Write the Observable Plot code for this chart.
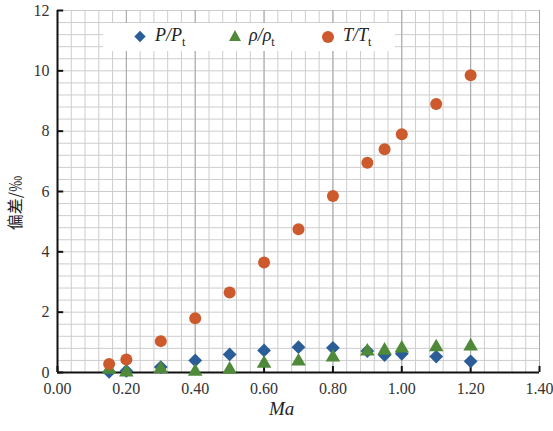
<!DOCTYPE html>
<html><head><meta charset="utf-8">
<script src="https://cdn.jsdelivr.net/npm/d3@7"></script>
<script src="https://cdn.jsdelivr.net/npm/@observablehq/plot@0.6"></script>
<style>
body{margin:0;background:#fff;}
#wrap{position:relative;width:553px;height:431px;}
#wrap svg text{font-family:"Liberation Serif","Times New Roman",serif;}
#legend{position:absolute;left:103px;top:23px;width:292px;height:28px;background:#fff;font-family:"Liberation Serif","Times New Roman",serif;font-size:18px;font-style:italic;color:#222;}
#legend .it{position:absolute;top:2px;white-space:nowrap;}
#legend svg{position:absolute;top:0;}
.sub{font-style:normal;font-size:12px;vertical-align:-5px;}
#ylab{position:absolute;left:14px;top:203px;transform:translate(-50%,-50%) rotate(-90deg);font-family:"Noto Sans CJK SC",sans-serif;font-size:16px;color:#222;white-space:nowrap;}
#xlab{position:absolute;left:269px;top:398px;font-family:"Liberation Serif","Times New Roman",serif;font-style:italic;font-size:19px;color:#222;}
</style></head>
<body><div id="wrap"></div>
<script>
const ma = [0.15,0.2,0.3,0.4,0.5,0.6,0.7,0.8,0.9,0.95,1.0,1.1,1.2];
const pRatio = [0.02,0.05,0.18,0.40,0.60,0.73,0.84,0.82,0.71,0.58,0.62,0.53,0.37];
const rhoRatio = [0.10,0.01,0.12,0.03,0.10,0.30,0.37,0.50,0.70,0.73,0.80,0.84,0.87];
const tRatio = [0.28,0.43,1.04,1.80,2.65,3.65,4.75,5.85,6.95,7.40,7.90,8.90,9.85];
const xTicks = [0,0.2,0.4,0.6,0.8,1.0,1.2,1.4];
const yTicks = [0,2,4,6,8,10,12];
const colors = {P:"#2b5d99", rho:"#4f8a3b", T:"#cc5a2d"};

const xMinor = d3.range(0,36).map(i=>+(i*0.04).toFixed(2));
const yMinor = d3.range(0,31).map(i=>+(i*0.4).toFixed(2));
const rows = ma.map((m,i)=>({ma:m,p:pRatio[i],rho:rhoRatio[i],t:tRatio[i]}));

const chart = Plot.plot({
  width:553, height:431,
  marginLeft:57, marginRight:14, marginTop:10, marginBottom:59,
  x:{domain:[0,1.4]}, y:{domain:[0,12]},
  style:{fontFamily:"'Liberation Serif', 'Times New Roman', serif", fontSize:"16px", color:"#333"},
  marks:[
    Plot.ruleX(xMinor,{stroke:"#cdcdcd",strokeWidth:1,strokeOpacity:1}),
    Plot.ruleY(yMinor,{stroke:"#cdcdcd",strokeWidth:1,strokeOpacity:1}),
    Plot.ruleX(xTicks,{stroke:"#a6a6a6",strokeWidth:1}),
    Plot.axisX({ticks:xTicks,tickFormat:d=>d.toFixed(2),tickSize:0,tickPadding:10,label:null}),
    Plot.axisY({ticks:yTicks,tickFormat:d=>String(d),tickSize:0,tickPadding:8,label:null}),
    Plot.ruleX(xTicks,{y1:0,y2:0.2,stroke:"#111",strokeWidth:2}),
    Plot.ruleY(yTicks,{x1:0,x2:0.018,stroke:"#111",strokeWidth:2}),
    Plot.ruleY([0],{stroke:"#111",strokeWidth:2}),
    Plot.ruleX([0],{stroke:"#111",strokeWidth:2}),
    Plot.dot(rows,{x:"ma",y:"p",symbol:"diamond2",r:6.2,fill:colors.P,stroke:"none"}),
    Plot.dot(rows,{x:"ma",y:"rho",symbol:"triangle",r:5.4,fill:colors.rho,stroke:"none"}),
    Plot.dot(rows,{x:"ma",y:"t",symbol:"circle",r:6,fill:colors.T,stroke:"none"})
  ]
});
const wrap = document.getElementById("wrap");
wrap.appendChild(chart);

const leg = document.createElement("div");
leg.id="legend";
leg.innerHTML = `
<svg width="20" height="28" style="left:28px"><rect x="5" y="9.5" width="8" height="8" transform="rotate(45 9 13.5)" fill="${colors.P}"/></svg>
<span class="it" style="left:52px">P/P<span class="sub">t</span></span>
<svg width="20" height="28" style="left:122px"><polygon points="10,7 16,18 4,18" fill="${colors.rho}"/></svg>
<span class="it" style="left:146px">ρ/ρ<span class="sub">t</span></span>
<svg width="20" height="28" style="left:215px"><circle cx="10" cy="14" r="6" fill="${colors.T}"/></svg>
<span class="it" style="left:240px">T/T<span class="sub">t</span></span>`;
wrap.appendChild(leg);

const yl = document.createElement("div");
yl.id="ylab"; yl.textContent="偏差/‰";
wrap.appendChild(yl);
const xl = document.createElement("div");
xl.id="xlab"; xl.textContent="Ma";
wrap.appendChild(xl);
</script>
</body></html>
